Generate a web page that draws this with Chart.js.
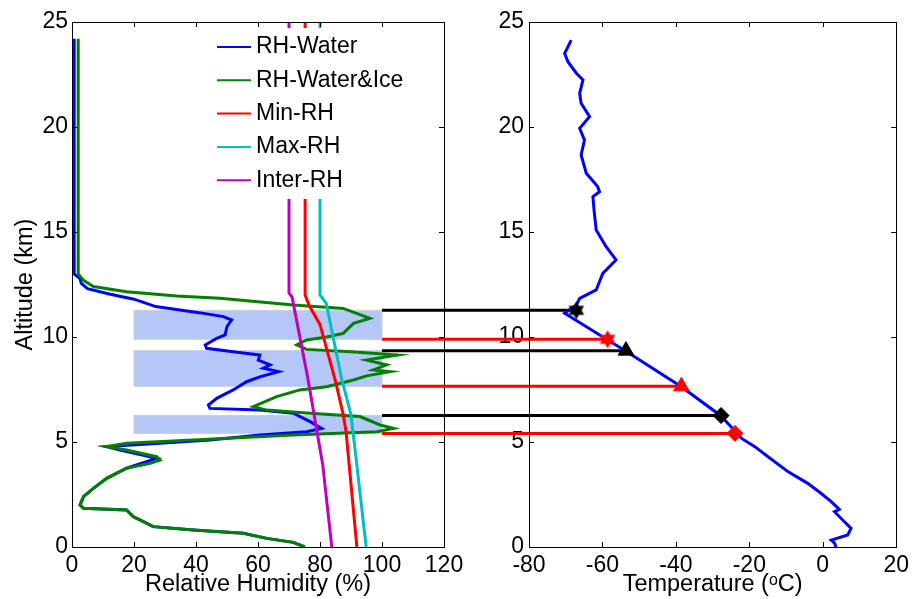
<!DOCTYPE html>
<html>
<head>
<meta charset="utf-8">
<script src="https://cdn.jsdelivr.net/npm/chart.js@4.4.0/dist/chart.umd.min.js"></script>
<style>
  html, body { margin: 0; padding: 0; background: #fff; }
  #wrap { position: relative; width: 914px; height: 599px; }
  #wrap canvas { position: absolute; left: 0; top: 0; }
</style>
</head>
<body>
<div id="wrap">
  <canvas id="rhChart" width="914" height="599"></canvas>
  <canvas id="tChart" width="914" height="599"></canvas>
</div>
<script>
// RH-Water profile (RH %, altitude km)
const rhWater = [0.7, 0.7, 2.5, 3, 5, 12, 20, 27, 41, 48.8, 51.5, 50, 49.4, 46.7, 43, 43.4, 52, 60.6, 60.1, 63.9,
  61.7, 66.6, 60.6, 56.3, 52, 46.7, 44, 44.5, 60.6, 71.4, 76.8, 80.5, 75.7, 60.6, 44.5, 28.4, 11.2, 15.5, 27.3, 24,
  17.6, 11.2, 6.9, 3.7, 2.6, 3.7, 17.6, 19.8, 21.9, 26.2, 39.1, 55.3, 62.8, 71.4, 75.1];
const altWater = [24.2, 13.0, 12.8, 12.55, 12.3, 12.05, 11.8, 11.45, 11.16, 10.97, 10.81, 10.5, 10.1, 9.94, 9.62, 9.46, 9.3, 9.14, 8.9, 8.67,
  8.51, 8.35, 8.1, 7.87, 7.48, 7.08, 6.76, 6.6, 6.52, 6.37, 5.97, 5.65, 5.49, 5.33, 5.1, 4.94, 4.78, 4.62, 4.22, 4.06,
  3.75, 3.27, 2.79, 2.4, 2.0, 1.84, 1.76, 1.44, 1.29, 0.97, 0.81, 0.65, 0.41, 0.22, 0.0];

// RH-Water&Ice profile
const rhIce = [2, 2, 3.7, 6.9, 17.6, 33.8, 47.7, 71.4, 87.5, 96.1, 90.8, 87.5, 82.1, 75.7, 72.5, 75.7, 90, 105, 95, 101.5,
  97.2, 102.6, 95, 90.8, 82.1, 73.5, 66, 58.5, 62.8, 76.8, 92.9, 99.4, 103.7, 98.3, 71.4, 39.1, 17.6, 11.2, 17.6, 27.3,
  28.4, 25.2, 17.6, 11.2, 6.9, 3.7, 2.6, 3.7, 17.6, 19.8, 21.9, 26.2, 39.1, 55.3, 62.8, 71.4, 75.1];
const altIce = [24.2, 13.0, 12.7, 12.4, 12.16, 11.95, 11.84, 11.52, 11.36, 10.89, 10.65, 10.17, 10.0, 9.86, 9.62, 9.41, 9.3, 9.14, 8.9, 8.67,
  8.43, 8.35, 8.15, 7.95, 7.63, 7.48, 7.16, 6.68, 6.52, 6.37, 6.21, 5.81, 5.65, 5.49, 5.33, 5.1, 4.94, 4.78, 4.62, 4.3,
  4.14, 3.98, 3.75, 3.27, 2.79, 2.4, 2.0, 1.84, 1.76, 1.44, 1.29, 0.97, 0.81, 0.65, 0.41, 0.22, 0.0];

// threshold profiles
const rhMin = [75.2, 75.2, 76.5, 80, 85, 87.5, 88.4, 91.9];
const altMin = [25, 12.0, 11.5, 10.6, 7.9, 6.3, 5.5, 0];
const rhMax = [80, 80, 82, 87, 90, 91.5, 94.9];
const altMax = [25, 12.0, 11.6, 8.0, 6.3, 4.4, 0];
const rhInter = [70, 70, 71, 76, 80.9, 83.8];
const altInter = [25, 12.1, 11.9, 8.1, 3.9, 0];

// temperature profile (deg C, altitude km)
const tempVals = [-68.5, -69.8, -70.3, -69.4, -67.1, -65.3, -66.2, -65.8, -63.5, -66.2, -64.9, -65.8, -64.4, -61.3, -60.8,
  -62.6, -62.2, -61.7, -59, -56.3, -59.9, -61.7, -66.2, -67.1, -70.3, -59, -53.8, -38.5, -27.7, -22.1,
  -18.5, -14.9, -9.5, -4.1, -0.5, 2.3, 4.5, 3.2, 5.9, 7.7, 6.8, 2.3, 3.2, 3.6];
const tempAlt = [24.14, 23.67, 23.51, 23.11, 22.56, 22.24, 21.6, 21.13, 20.49, 19.94, 19.38, 18.67, 17.8, 17.16, 16.92,
  16.68, 15.89, 15.1, 14.3, 13.67, 13.03, 12.24, 11.84, 11.52, 11.13, 9.9, 9.35, 7.63, 6.24, 5.17,
  4.78, 4.3, 3.59, 3.03, 2.56, 2.16, 1.79, 1.68, 1.2, 0.89, 0.57, 0.33, 0.18, 0.0];

// cloud layers
const cloudTop = [11.27, 9.35, 6.26];
const cloudBase = [9.89, 7.65, 5.41];
const cloudRh = [20, 100];
const tempAtTop = [-67.1, -53.6, -27.7];
const tempAtBase = [-58.6, -38.5, -23.9];

const xTicksRh = [0, 120, 20];
const xTicksT = [-80, 20, 20];
const yTicks = [0, 25, 5];

Chart.defaults.font.family = "'Liberation Sans', Arial, sans-serif";
Chart.defaults.font.size = 23;
Chart.defaults.color = '#000';

function profile(label, xs, ys, color, order) {
  return {
    label: label,
    data: xs.map((v, i) => ({ x: v, y: ys[i] })),
    showLine: true,
    borderColor: color,
    backgroundColor: color,
    borderWidth: 3,
    pointRadius: 0,
    tension: 0,
    order: order
  };
}

function hexagram(color, r) {
  const c = document.createElement('canvas');
  c.width = c.height = 2 * r + 2;
  const g = c.getContext('2d');
  g.fillStyle = color;
  g.beginPath();
  for (let i = 0; i < 12; i++) {
    const a = -Math.PI / 2 + i * Math.PI / 6;
    const rr = i % 2 ? r * 0.58 : r;
    g.lineTo(r + 1 + rr * Math.cos(a), r + 1 + rr * Math.sin(a));
  }
  g.closePath();
  g.fill();
  return c;
}

// box around the plot with inward tick marks on all four sides
const framePlugin = {
  id: 'frame',
  afterDatasetsDraw(chart) {
    const { ctx, chartArea: a, scales: { x, y } } = chart;
    ctx.save();
    ctx.strokeStyle = '#000';
    ctx.lineWidth = 1;
    ctx.strokeRect(Math.round(a.left) + 0.5, Math.round(a.top) + 0.5, Math.round(a.right - a.left), Math.round(a.bottom - a.top));
    ctx.beginPath();
    x.ticks.forEach(t => {
      const px = Math.round(x.getPixelForValue(t.value)) + 0.5;
      ctx.moveTo(px, a.bottom); ctx.lineTo(px, a.bottom - 5);
      ctx.moveTo(px, a.top); ctx.lineTo(px, a.top + 5);
    });
    y.ticks.forEach(t => {
      const py = Math.round(y.getPixelForValue(t.value)) + 0.5;
      ctx.moveTo(a.left, py); ctx.lineTo(a.left + 5, py);
      ctx.moveTo(a.right, py); ctx.lineTo(a.right - 5, py);
    });
    ctx.stroke();
    ctx.restore();
  }
};

// shaded cloud layers
const cloudPlugin = {
  id: 'clouds',
  beforeDatasetsDraw(chart) {
    const { ctx, scales: { x, y } } = chart;
    ctx.save();
    ctx.fillStyle = 'rgb(180,199,247)';
    ctx.strokeStyle = '#cfcfcf';
    ctx.lineWidth = 1;
    cloudTop.forEach((top, i) => {
      const x0 = x.getPixelForValue(cloudRh[0]), x1 = x.getPixelForValue(cloudRh[1]);
      const y0 = y.getPixelForValue(top), y1 = y.getPixelForValue(cloudBase[i]);
      ctx.fillRect(x0, y0, x1 - x0, y1 - y0);
      ctx.strokeRect(x0, y0, x1 - x0, y1 - y0);
    });
    ctx.restore();
  }
};

// legend with white background inside the plot
const legendPlugin = {
  id: 'boxLegend',
  afterDatasetsDraw(chart) {
    const { ctx, chartArea: a } = chart;
    const left = a.left + 135, top = a.top + 6;
    ctx.save();
    ctx.fillStyle = '#fff';
    ctx.fillRect(left, top, 212, 171);
    ctx.font = "23px 'Liberation Sans', Arial, sans-serif";
    ctx.textBaseline = 'middle';
    chart.data.datasets.forEach((ds, i) => {
      const yy = top + 19 + i * 33.3;
      ctx.strokeStyle = ds.borderColor;
      ctx.lineWidth = 2;
      ctx.beginPath();
      ctx.moveTo(left + 10, yy); ctx.lineTo(left + 44, yy);
      ctx.stroke();
      ctx.fillStyle = '#000';
      ctx.fillText(ds.label, left + 49, yy);
    });
    ctx.restore();
  }
};

function axis(range, title, afterFit, padding) {
  return {
    type: 'linear', min: range[0], max: range[1],
    ticks: { stepSize: range[2], padding: padding },
    grid: { display: false, drawTicks: false },
    border: { display: false },
    title: title,
    afterFit: afterFit
  };
}

const titleFont = { size: 23.5 };

const rhChart = new Chart(document.getElementById('rhChart'), {
  type: 'scatter',
  data: {
    datasets: [
      profile('RH-Water', rhWater, altWater, '#0000ff', 5),
      profile('RH-Water&Ice', rhIce, altIce, '#008000', 4),
      profile('Min-RH', rhMin, altMin, '#ff0000', 3),
      profile('Max-RH', rhMax, altMax, '#00bfbf', 2),
      profile('Inter-RH', rhInter, altInter, '#bf00bf', 1)
    ]
  },
  options: {
    responsive: false,
    animation: false,
    layout: { padding: { left: 0, top: 22, right: 470, bottom: 0 } },
    plugins: { legend: { display: false }, tooltip: { enabled: false } },
    scales: {
      x: axis(xTicksRh, { display: true, text: 'Relative Humidity (%)', font: titleFont, padding: { top: 0, bottom: 0 } }, s => { s.height = 52; }, 5),
      y: axis(yTicks, { display: true, text: 'Altitude (km)', font: titleFont, padding: { top: 11, bottom: 0 } }, s => { s.width = 72; }, 4)
    }
  },
  plugins: [cloudPlugin, framePlugin, legendPlugin]
});

// lines from the cloud boundaries to the temperature profile
const connectorPlugin = {
  id: 'connectors',
  beforeDatasetsDraw(chart) {
    const { ctx, scales: { x, y } } = chart;
    const x0 = rhChart.scales.x.getPixelForValue(cloudRh[1]);
    ctx.save();
    ctx.lineWidth = 3;
    const draw = (alts, temps, color) => {
      ctx.strokeStyle = color;
      alts.forEach((alt, i) => {
        const py = y.getPixelForValue(alt);
        ctx.beginPath();
        ctx.moveTo(x0, py);
        ctx.lineTo(x.getPixelForValue(temps[i]), py);
        ctx.stroke();
      });
    };
    draw(cloudTop, tempAtTop, '#000');
    draw(cloudBase, tempAtBase, '#ff0000');
    ctx.restore();
  }
};

const tChart = new Chart(document.getElementById('tChart'), {
  type: 'scatter',
  data: {
    datasets: [
      profile('Temperature', tempVals, tempAlt, '#0000ff', 3),
      {
        label: 'Cloud top',
        data: tempAtTop.map((t, i) => ({ x: t, y: cloudTop[i] })),
        pointStyle: [hexagram('#000', 9), 'triangle', 'rectRot'],
        pointRadius: [9, 9, 8],
        backgroundColor: '#000', borderColor: '#000', borderWidth: 1,
        showLine: false, order: 1
      },
      {
        label: 'Cloud base',
        data: tempAtBase.map((t, i) => ({ x: t, y: cloudBase[i] })),
        pointStyle: [hexagram('#ff0000', 9), 'triangle', 'rectRot'],
        pointRadius: [9, 9, 8],
        backgroundColor: '#ff0000', borderColor: '#ff0000', borderWidth: 1,
        showLine: false, order: 2
      }
    ]
  },
  options: {
    responsive: false,
    animation: false,
    layout: { padding: { left: 489, top: 22, right: 15, bottom: 0 } },
    plugins: { legend: { display: false }, tooltip: { enabled: false } },
    scales: {
      x: axis(xTicksT, { display: true, text: 'Temperature (\u1D52C)', font: titleFont, padding: { top: 0, bottom: 0 } }, s => { s.height = 52; }, 5),
      y: axis(yTicks, { display: false }, s => { s.width = 40; }, 5)
    }
  },
  plugins: [connectorPlugin, framePlugin]
});
</script>
</body>
</html>
